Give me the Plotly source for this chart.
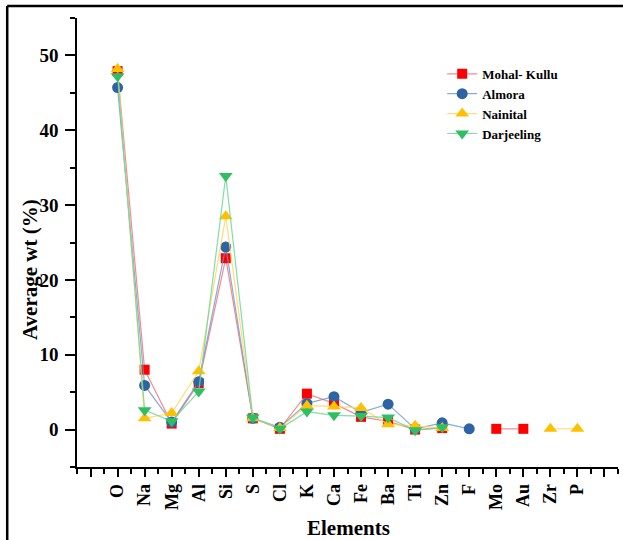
import plotly.graph_objects as go

elements = ["O", "Na", "Mg", "Al", "Si", "S", "Cl", "K", "Ca", "Fe", "Ba", "Ti", "Zn", "F", "Mo", "Au", "Zr", "P"]

mohal_kullu = [47.9, 8.0, 0.8, 6.2, 22.9, 1.5, 0.1, 4.8, 3.5, 1.7, 1.1, 0.0, 0.2, None, 0.1, 0.1, None, None]
almora      = [45.7, 5.9, 1.0, 6.4, 24.4, 1.5, 0.3, 3.5, 4.4, 2.3, 3.4, 0.1, 0.9, 0.1, None, None, None, None]
nainital    = [48.2, 1.5, 2.2, 7.8, 28.5, 1.5, 0.2, 3.2, 3.1, 2.9, 0.7, 0.5, 0.2, None, None, None, 0.1, 0.1]
darjeeling  = [47.2, 2.6, 1.1, 5.1, 33.9, 1.6, 0.1, 2.4, 1.9, 1.8, 1.6, -0.1, 0.3, None, None, None, None, None]

series = [
    ("Mohal- Kullu", mohal_kullu, "square", "#FF0000", "rgba(240,110,120,0.8)", 10),
    ("Almora", almora, "circle", "#2F64A4", "rgba(110,150,200,0.8)", 11),
    ("Nainital", nainital, "triangle-up", "#FFC000", "rgba(255,215,100,0.85)", 12),
    ("Darjeeling", darjeeling, "triangle-down", "#2FBF62", "rgba(110,215,150,0.85)", 12),
]

xs = list(range(len(elements)))
FONT = "Liberation Serif"

fig = go.Figure()
for name, vals, sym, mc, lc, sz in series:
    fig.add_trace(go.Scatter(
        x=xs, y=vals, name=name, mode="lines+markers",
        connectgaps=False,
        line=dict(color=lc, width=1.2),
        marker=dict(symbol=sym, color=mc, size=sz, line=dict(width=0)),
    ))

fig.update_layout(
    width=623, height=540,
    margin=dict(l=77, r=5, t=18, b=73),
    paper_bgcolor="white", plot_bgcolor="white",
    font=dict(family=FONT, color="black"),
    showlegend=True,
    legend=dict(
        x=0.675, y=0.909, xanchor="left", yanchor="top",
        bgcolor="rgba(0,0,0,0)",
        font=dict(family=FONT, size=13, weight="bold", color="black"),
        itemwidth=30, tracegroupgap=0,
    ),
    xaxis=dict(
        range=[-1.5, 18.5],
        automargin=False,
        tickmode="array",
        tickvals=list(range(-1, 19)),
        ticktext=[""] + elements + ["", ""],
        tickangle=-90,
        tickfont=dict(family=FONT, size=18, weight="bold"),
        ticks="outside", ticklen=8, tickwidth=1.5, tickcolor="black",
        minor=dict(tickmode="array", tickvals=[i + 0.5 for i in range(-2, 19)],
                   ticks="outside", ticklen=5, tickwidth=1.5, tickcolor="black"),
        showline=True, linecolor="black", linewidth=1.5,
        showgrid=False, zeroline=False,
    ),
    yaxis=dict(
        range=[-5, 55],
        automargin=False,
        tickmode="array",
        tickvals=[0, 10, 20, 30, 40, 50],
        tickfont=dict(family=FONT, size=19, weight="bold"),
        ticks="outside", ticklen=10, tickwidth=1.5, tickcolor="black",
        ticklabelstandoff=3,
        minor=dict(tickmode="array", tickvals=[-5, 5, 15, 25, 35, 45, 55],
                   ticks="outside", ticklen=5, tickwidth=1.5, tickcolor="black"),
        showline=True, linecolor="black", linewidth=1.5,
        showgrid=False, zeroline=False,
    ),
)

# axis titles
fig.add_annotation(text="Elements", xref="paper", yref="paper",
                   x=(348 - 77) / 541, y=(467 - 528) / 449,
                   xanchor="center", yanchor="middle", showarrow=False,
                   font=dict(family=FONT, size=21, weight="bold", color="black"))
fig.add_annotation(text="Average wt (%)", xref="paper", yref="paper",
                   x=(30 - 77) / 541, y=(467 - 270) / 449,
                   xanchor="center", yanchor="middle", showarrow=False, textangle=-90,
                   font=dict(family=FONT, size=21, weight="bold", color="black"))

# outer frame (left and top edges visible in the reference)
fig.add_shape(type="line", xref="paper", yref="paper",
              x0=-0.129, x1=-0.129, y0=-0.25, y1=1.0265,
              line=dict(color="black", width=2.5))
fig.add_shape(type="line", xref="paper", yref="paper",
              x0=-0.129, x1=1.05, y0=1.0265, y1=1.0265,
              line=dict(color="black", width=2.5))

fig.write_html("out.html", config={"displayModeBar": False},
               post_script="document.body.style.margin='0px';")
